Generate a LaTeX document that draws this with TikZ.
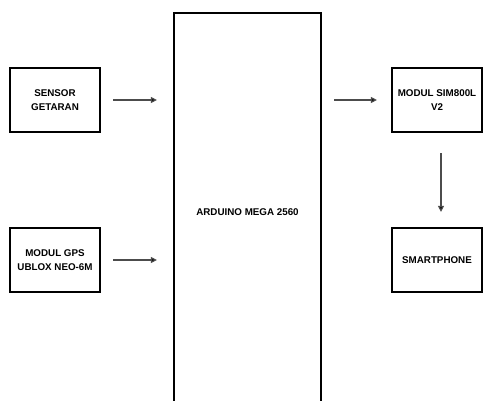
\documentclass[tikz,border=0pt]{standalone}
\usepackage{fontspec}
\setmainfont{Liberation Sans}
\usepackage{tikz}
\usetikzlibrary{arrows.meta}

\tikzset{
  blok/.style={draw, line width=2.2pt, align=center, font=\fontsize{9.8}{14}\selectfont\bfseries,
    minimum width=90pt, minimum height=64pt, inner sep=0pt},
  panah/.style={draw=black!70, line width=1.2pt, -{Triangle[length=6pt,width=6pt,fill=black]}}
}

\begin{document}
\begin{tikzpicture}[x=1pt,y=-1pt]
    \useasboundingbox (0,0) rectangle (483,401);
    \fill[white] (0,0) rectangle (483,401);

    \node[blok] (sensor) at (55,100)  {SENSOR\\GETARAN};
    \node[blok] (gps)    at (55,260)  {MODUL GPS\\UBLOX NEO-6M};
    \node[blok, minimum width=147pt, minimum height=398pt] (arduino) at (247.5,212) {ARDUINO MEGA 2560};
    \node[blok] (sim)    at (437,100) {MODUL SIM800L\\V2};
    \node[blok] (phone)  at (437,260) {SMARTPHONE};

    \draw[panah, shorten <=12pt, shorten >=16pt] (sensor.east) -- (sensor.east -| arduino.west);
    \draw[panah, shorten <=12pt, shorten >=16pt] (gps.east) -- (gps.east -| arduino.west);
    \draw[panah, shorten <=12pt, shorten >=14pt] (sim.west -| arduino.east) -- (sim.west);
    \draw[panah, shorten <=20pt, shorten >=15pt] ([xshift=4pt]sim.south) -- ([xshift=4pt]phone.north);
  \end{tikzpicture}
\end{document}
